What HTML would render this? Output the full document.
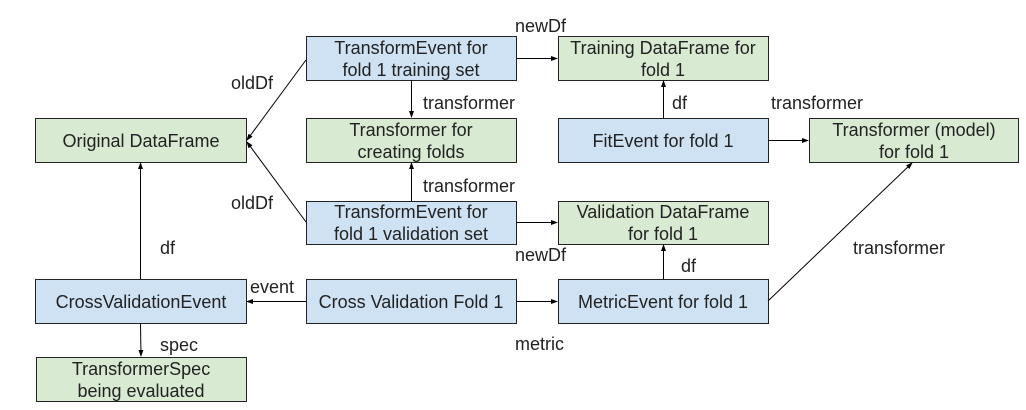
<!DOCTYPE html>
<html><head><meta charset="utf-8"><style>
html,body{margin:0;padding:0;background:#fff;}
svg text{font-family:"Liberation Sans",Arial,sans-serif;font-size:18px;fill:#222;}
</style></head><body>
<svg width="1026" height="405" viewBox="0 0 1026 405" xmlns="http://www.w3.org/2000/svg">
<defs><marker id="a" markerWidth="7" markerHeight="5" refX="6" refY="2.5" orient="auto" markerUnits="userSpaceOnUse"><path d="M0,0 L7,2.5 L0,5 z" fill="#000"/></marker></defs>
<g stroke="#222" stroke-width="1">
<rect x="35.5" y="118.5" width="211" height="44" fill="#d9ead3"/>
<rect x="35.5" y="279.5" width="211" height="44" fill="#cfe2f3"/>
<rect x="36.5" y="357.5" width="210" height="44" fill="#d9ead3"/>
<rect x="306.5" y="36.5" width="210" height="44" fill="#cfe2f3"/>
<rect x="306.5" y="118.5" width="210" height="44" fill="#d9ead3"/>
<rect x="306.5" y="201.5" width="210" height="43" fill="#cfe2f3"/>
<rect x="306.5" y="279.5" width="210" height="44" fill="#cfe2f3"/>
<rect x="558.5" y="36.5" width="210" height="44" fill="#d9ead3"/>
<rect x="558.5" y="118.5" width="210" height="44" fill="#cfe2f3"/>
<rect x="558.5" y="201.5" width="210" height="43" fill="#d9ead3"/>
<rect x="558.5" y="279.5" width="210" height="44" fill="#cfe2f3"/>
<rect x="809.5" y="118.5" width="209" height="44" fill="#d9ead3"/>
</g>
<g stroke="#000" stroke-width="1" fill="none" marker-end="url(#a)">
<line x1="306" y1="60" x2="247" y2="140"/>
<line x1="306" y1="222" x2="247" y2="142"/>
<line x1="411.5" y1="80" x2="411.5" y2="117"/>
<line x1="411.5" y1="201" x2="411.5" y2="163"/>
<line x1="516" y1="58.5" x2="557" y2="58.5"/>
<line x1="516" y1="222.5" x2="557" y2="222.5"/>
<line x1="663.5" y1="118" x2="663.5" y2="81"/>
<line x1="768" y1="140.5" x2="808" y2="140.5"/>
<line x1="663.5" y1="279" x2="663.5" y2="245"/>
<line x1="768" y1="301" x2="912" y2="163"/>
<line x1="516" y1="301.5" x2="557" y2="301.5"/>
<line x1="306" y1="301.5" x2="247" y2="301.5"/>
<line x1="140.5" y1="279" x2="140.5" y2="163"/>
<line x1="140.5" y1="323" x2="141" y2="356"/>
</g>
<g text-anchor="middle" dominant-baseline="central">
<text x="141" y="141">Original DataFrame</text>
<text x="141" y="302">CrossValidationEvent</text>
<text x="141" y="369">TransformerSpec</text>
<text x="141" y="391">being evaluated</text>
<text x="411" y="48">TransformEvent for</text>
<text x="411" y="70">fold 1 training set</text>
<text x="411" y="130">Transformer for</text>
<text x="411" y="152">creating folds</text>
<text x="411" y="212">TransformEvent for</text>
<text x="411" y="234">fold 1 validation set</text>
<text x="411" y="302">Cross Validation Fold 1</text>
<text x="663" y="48">Training DataFrame for</text>
<text x="663" y="70">fold 1</text>
<text x="663" y="141">FitEvent for fold 1</text>
<text x="663" y="212">Validation DataFrame</text>
<text x="663" y="234">for fold 1</text>
<text x="663" y="302">MetricEvent for fold 1</text>
<text x="914" y="130">Transformer (model)</text>
<text x="914" y="152">for fold 1</text>
</g>
<g dominant-baseline="central">
<text x="515" y="26">newDf</text>
<text x="231" y="83">oldDf</text>
<text x="423" y="103">transformer</text>
<text x="423" y="186">transformer</text>
<text x="231" y="203">oldDf</text>
<text x="160" y="248">df</text>
<text x="250" y="287">event</text>
<text x="160" y="345">spec</text>
<text x="515" y="255">newDf</text>
<text x="515" y="344">metric</text>
<text x="672" y="103">df</text>
<text x="771" y="103">transformer</text>
<text x="681" y="266">df</text>
<text x="853" y="248">transformer</text>
</g>
</svg>
</body></html>
